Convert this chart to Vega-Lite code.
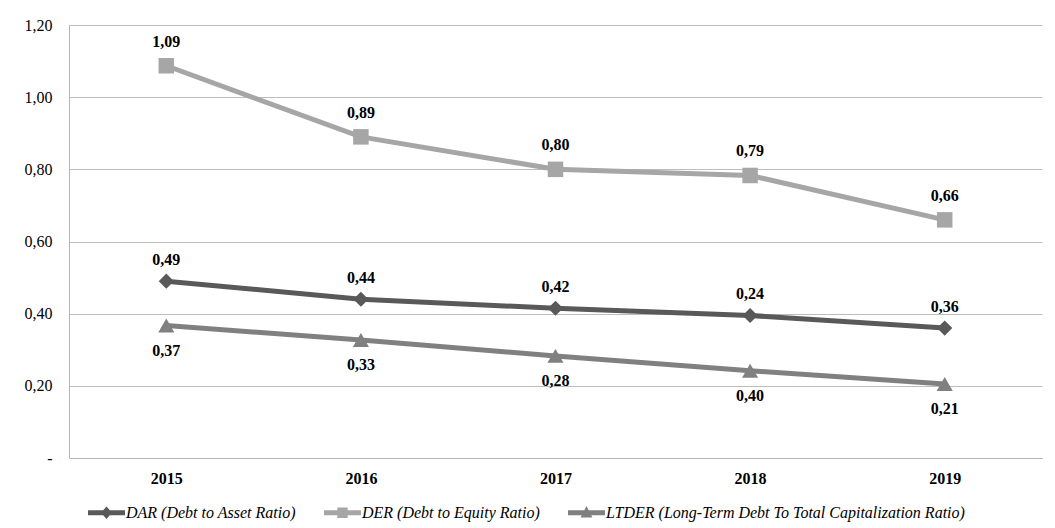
{
  "$schema": "https://vega.github.io/schema/vega-lite/v6.json",
  "width": 973,
  "height": 433,
  "autosize": {"type": "none"},
  "padding": {"left": 69, "top": 25, "right": 13, "bottom": 70},
  "background": "white",
  "config": {"view": {"stroke": null}, "font": "Liberation Serif"},
  "data": {
    "values": [
      {"year": "2015", "series": "DAR (Debt to Asset Ratio)", "value": 0.49, "label": "0,49"},
      {"year": "2016", "series": "DAR (Debt to Asset Ratio)", "value": 0.44, "label": "0,44"},
      {"year": "2017", "series": "DAR (Debt to Asset Ratio)", "value": 0.415, "label": "0,42"},
      {"year": "2018", "series": "DAR (Debt to Asset Ratio)", "value": 0.395, "label": "0,24"},
      {"year": "2019", "series": "DAR (Debt to Asset Ratio)", "value": 0.36, "label": "0,36"},
      {"year": "2015", "series": "DER (Debt to Equity Ratio)", "value": 1.087, "label": "1,09"},
      {"year": "2016", "series": "DER (Debt to Equity Ratio)", "value": 0.89, "label": "0,89"},
      {"year": "2017", "series": "DER (Debt to Equity Ratio)", "value": 0.80, "label": "0,80"},
      {"year": "2018", "series": "DER (Debt to Equity Ratio)", "value": 0.783, "label": "0,79"},
      {"year": "2019", "series": "DER (Debt to Equity Ratio)", "value": 0.66, "label": "0,66"},
      {"year": "2015", "series": "LTDER (Long-Term Debt To Total Capitalization Ratio)", "value": 0.367, "label": "0,37"},
      {"year": "2016", "series": "LTDER (Long-Term Debt To Total Capitalization Ratio)", "value": 0.327, "label": "0,33"},
      {"year": "2017", "series": "LTDER (Long-Term Debt To Total Capitalization Ratio)", "value": 0.283, "label": "0,28"},
      {"year": "2018", "series": "LTDER (Long-Term Debt To Total Capitalization Ratio)", "value": 0.242, "label": "0,40"},
      {"year": "2019", "series": "LTDER (Long-Term Debt To Total Capitalization Ratio)", "value": 0.205, "label": "0,21"}
    ]
  },
  "encoding": {
    "x": {
      "field": "year",
      "type": "ordinal",
      "scale": {"type": "point", "padding": 0.5},
      "axis": {
        "title": null,
        "labelAngle": 0,
        "ticks": false,
        "grid": false,
        "domainColor": "#b3b3b3",
        "domainWidth": 1,
        "labelFont": "Times New Roman, Liberation Serif, serif",
        "labelFontWeight": "bold",
        "labelFontSize": 16,
        "labelColor": "#000000",
        "labelPadding": 12
      }
    },
    "y": {
      "field": "value",
      "type": "quantitative",
      "scale": {"domain": [0, 1.2], "nice": false},
      "axis": {
        "title": null,
        "values": [0, 0.2, 0.4, 0.6, 0.8, 1.0, 1.2],
        "ticks": false,
        "grid": true,
        "gridColor": "#bdbdbd",
        "gridWidth": 1,
        "domainColor": "#b3b3b3",
        "labelFont": "Times New Roman, Liberation Serif, serif",
        "labelFontSize": 16,
        "labelColor": "#000000",
        "labelPadding": 17,
        "labelExpr": "datum.value == 0 ? '-\u00a0\u00a0\u00a0\u00a0\u00a0\u00a0' : replace(format(datum.value, '.2f'), '.', ',')"
      }
    }
  },
  "layer": [
    {
      "transform": [{"filter": {"field": "series", "equal": "DAR (Debt to Asset Ratio)"}}],
      "mark": {"type": "line", "strokeWidth": 5, "color": "#595959"}
    },
    {
      "transform": [{"filter": {"field": "series", "equal": "DER (Debt to Equity Ratio)"}}],
      "mark": {"type": "line", "strokeWidth": 5, "color": "#a6a6a6"}
    },
    {
      "transform": [{"filter": {"field": "series", "equal": "LTDER (Long-Term Debt To Total Capitalization Ratio)"}}],
      "mark": {"type": "line", "strokeWidth": 5, "color": "#808080"}
    },
    {
      "transform": [{"filter": {"field": "series", "equal": "DAR (Debt to Asset Ratio)"}}],
      "mark": {"type": "point", "shape": "diamond", "filled": true, "opacity": 1, "size": 230, "color": "#595959"}
    },
    {
      "transform": [{"filter": {"field": "series", "equal": "DER (Debt to Equity Ratio)"}}],
      "mark": {"type": "point", "shape": "square", "filled": true, "opacity": 1, "size": 240, "color": "#a6a6a6"}
    },
    {
      "transform": [{"filter": {"field": "series", "equal": "LTDER (Long-Term Debt To Total Capitalization Ratio)"}}],
      "mark": {"type": "point", "shape": "triangle-up", "filled": true, "opacity": 1, "size": 260, "color": "#808080"}
    },
    {
      "transform": [{"filter": {"field": "series", "equal": "DAR (Debt to Asset Ratio)"}}],
      "mark": {"type": "text", "dy": -21, "font": "Times New Roman, Liberation Serif, serif", "fontWeight": "bold", "fontSize": 16, "color": "#000000"},
      "encoding": {"text": {"field": "label"}}
    },
    {
      "transform": [{"filter": {"field": "series", "equal": "DER (Debt to Equity Ratio)"}}],
      "mark": {"type": "text", "dy": -24, "font": "Times New Roman, Liberation Serif, serif", "fontWeight": "bold", "fontSize": 16, "color": "#000000"},
      "encoding": {"text": {"field": "label"}}
    },
    {
      "transform": [{"filter": {"field": "series", "equal": "LTDER (Long-Term Debt To Total Capitalization Ratio)"}}],
      "mark": {"type": "text", "dy": 25, "font": "Times New Roman, Liberation Serif, serif", "fontWeight": "bold", "fontSize": 16, "color": "#000000"},
      "encoding": {"text": {"field": "label"}}
    },
    {
      "mark": {"type": "point", "filled": true, "opacity": 0},
      "encoding": {
        "color": {
          "field": "series",
          "type": "nominal",
          "scale": {
            "domain": ["DAR (Debt to Asset Ratio)", "DER (Debt to Equity Ratio)", "LTDER (Long-Term Debt To Total Capitalization Ratio)"],
            "range": ["#595959", "#a6a6a6", "#808080"]
          },
          "legend": {
            "title": null,
            "orient": "none",
            "legendX": 19,
            "legendY": 469,
            "direction": "horizontal",
            "symbolSize": 1369,
            "symbolStrokeWidth": 0,
            "symbolOpacity": 1,
            "labelFont": "Times New Roman, Liberation Serif, serif",
            "labelFontStyle": "italic",
            "labelFontSize": 16,
            "labelLimit": 0,
            "labelColor": "#000000",
            "labelOffset": 1,
            "columnPadding": 28
          }
        },
        "shape": {
          "field": "series",
          "type": "nominal",
          "scale": {
            "domain": ["DAR (Debt to Asset Ratio)", "DER (Debt to Equity Ratio)", "LTDER (Long-Term Debt To Total Capitalization Ratio)"],
            "range": [
              "M-1,-0.14H1V0.14H-1Z M0,-0.34L0.3,0L0,0.34L-0.3,0Z",
              "M-1,-0.14H1V0.14H-1Z M-0.28,-0.28H0.28V0.28H-0.28Z",
              "M-1,-0.14H1V0.14H-1Z M0,-0.36L0.32,0.26H-0.32Z"
            ]
          },
          "legend": {
            "title": null,
            "orient": "none",
            "legendX": 19,
            "legendY": 469,
            "direction": "horizontal",
            "symbolSize": 1369,
            "symbolStrokeWidth": 0,
            "symbolOpacity": 1,
            "labelFont": "Times New Roman, Liberation Serif, serif",
            "labelFontStyle": "italic",
            "labelFontSize": 16,
            "labelLimit": 0,
            "labelColor": "#000000",
            "labelOffset": 1,
            "columnPadding": 28
          }
        }
      }
    }
  ]
}
